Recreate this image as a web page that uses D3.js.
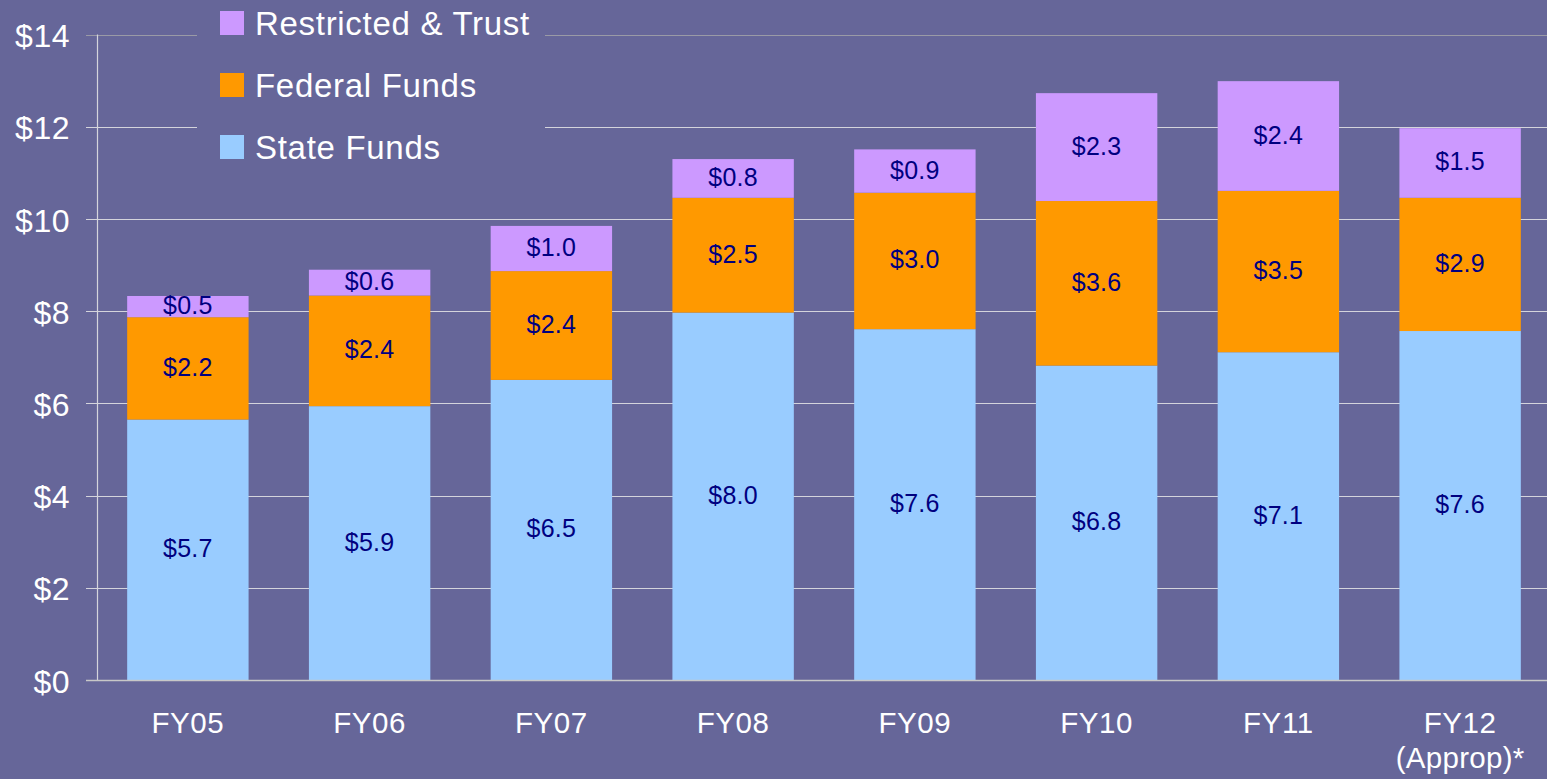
<!DOCTYPE html>
<html>
<head>
<meta charset="utf-8">
<script src="https://cdn.jsdelivr.net/npm/d3@7"></script>
<style>
  html, body { margin: 0; padding: 0; background: #666699; overflow: hidden; }
  svg { display: block; }
  text { font-family: "Liberation Sans", Arial, sans-serif; }
</style>
</head>
<body>
<svg id="chart" width="1547" height="779"></svg>
<script>
// ---- data ----
const categories = ["FY05", "FY06", "FY07", "FY08", "FY09", "FY10", "FY11", "FY12"];
const categorySubLabels = ["", "", "", "", "", "", "", "(Approp)*"];
const seriesNames = ["State Funds", "Federal Funds", "Restricted & Trust"];
const stateFunds      = [5.65, 5.94, 6.51, 7.97, 7.61, 6.82, 7.11, 7.57];
const federalFunds    = [2.22, 2.40, 2.36, 2.49, 2.96, 3.57, 3.50, 2.89];
const restrictedTrust = [0.46, 0.56, 0.98, 0.84, 0.94, 2.34, 2.38, 1.51];
const stateLabels      = ["$5.7", "$5.9", "$6.5", "$8.0", "$7.6", "$6.8", "$7.1", "$7.6"];
const federalLabels    = ["$2.2", "$2.4", "$2.4", "$2.5", "$3.0", "$3.6", "$3.5", "$2.9"];
const restrictedLabels = ["$0.5", "$0.6", "$1.0", "$0.8", "$0.9", "$2.3", "$2.4", "$1.5"];
const yTicks = [0, 2, 4, 6, 8, 10, 12, 14];

// ---- styles ----
const colors = { "State Funds": "#99CCFF", "Federal Funds": "#FF9900", "Restricted & Trust": "#CC99FF" };
const bg = "#666699";

const svg = d3.select("#chart");
const W = 1547, H = 779;

const x = d3.scaleBand().domain(categories).range([97, 1551]).paddingInner(0.332).paddingOuter(0.166);
const y = d3.scaleLinear().domain([0, 14]).range([680, 34.6]);

// gridlines + ticks
svg.append("g").selectAll("line").data(yTicks.filter(d => d > 0)).join("line")
  .attr("x1", 86).attr("x2", W)
  .attr("y1", d => Math.round(y(d)) + 0.5).attr("y2", d => Math.round(y(d)) + 0.5)
  .attr("stroke", d => d === 14 ? "#9a9aa6" : "#d4d4dc").attr("stroke-width", 1.2);

// stacked data
const rows = categories.map((c, i) => ({
  cat: c,
  "State Funds": stateFunds[i],
  "Federal Funds": federalFunds[i],
  "Restricted & Trust": restrictedTrust[i]
}));
const labelArrays = { "State Funds": stateLabels, "Federal Funds": federalLabels, "Restricted & Trust": restrictedLabels };
const stack = d3.stack().keys(seriesNames)(rows);

const gBars = svg.append("g");
stack.forEach(layer => {
  gBars.append("g").selectAll("rect").data(layer).join("rect")
    .attr("x", d => x(d.data.cat))
    .attr("width", x.bandwidth())
    .attr("y", d => y(d[1]))
    .attr("height", d => y(d[0]) - y(d[1]))
    .attr("fill", colors[layer.key]);
});

// value labels
stack.forEach(layer => {
  const labs = labelArrays[layer.key];
  svg.append("g").selectAll("text").data(layer).join("text")
    .attr("x", d => x(d.data.cat) + x.bandwidth() / 2)
    .attr("y", d => (y(d[0]) + y(d[1])) / 2 + 7.5)
    .attr("text-anchor", "middle")
    .attr("font-size", 25)
    .attr("letter-spacing", 0.3)
    .attr("fill", "#000080")
    .text((d, i) => labs[i]);
});

// axes lines
svg.append("line").attr("x1", 97.5).attr("x2", 97.5).attr("y1", y(14)).attr("y2", 680)
  .attr("stroke", "#d4d4dc").attr("stroke-width", 1.2);
svg.append("line").attr("x1", 86).attr("x2", W).attr("y1", 680.5).attr("y2", 680.5)
  .attr("stroke", "#c8c8c8").attr("stroke-width", 1.5);

// y tick labels
svg.append("g").selectAll("text").data(yTicks).join("text")
  .attr("x", 70).attr("y", d => y(d) + 12.5)
  .attr("text-anchor", "end").attr("font-size", 32).attr("letter-spacing", 0.5).attr("fill", "#ffffff")
  .text(d => "$" + d);

// x labels
svg.append("g").selectAll("text").data(categories).join("text")
  .attr("x", d => x(d) + x.bandwidth() / 2).attr("y", 733)
  .attr("text-anchor", "middle").attr("font-size", 29.5).attr("letter-spacing", 0.6).attr("fill", "#ffffff")
  .text(d => d);
svg.append("g").selectAll("text").data(categories).join("text")
  .attr("x", d => x(d) + x.bandwidth() / 2).attr("y", 768)
  .attr("text-anchor", "middle").attr("font-size", 29.5).attr("letter-spacing", 0.3).attr("fill", "#ffffff")
  .text((d, i) => categorySubLabels[i]);

// legend
const legend = svg.append("g");
legend.append("rect").attr("x", 197).attr("y", 0).attr("width", 348).attr("height", 170).attr("fill", bg);
const legendOrder = ["Restricted & Trust", "Federal Funds", "State Funds"];
const lg = legend.selectAll("g.item").data(legendOrder).join("g").attr("class", "item")
  .attr("transform", (d, i) => `translate(220, ${11 + i * 62})`);
lg.append("rect").attr("width", 24).attr("height", 24).attr("fill", d => colors[d]);
lg.append("text").attr("x", 35).attr("y", 23.5).attr("font-size", 33).attr("letter-spacing", 0.7)
  .attr("fill", "#ffffff").text(d => d);
</script>
</body>
</html>
